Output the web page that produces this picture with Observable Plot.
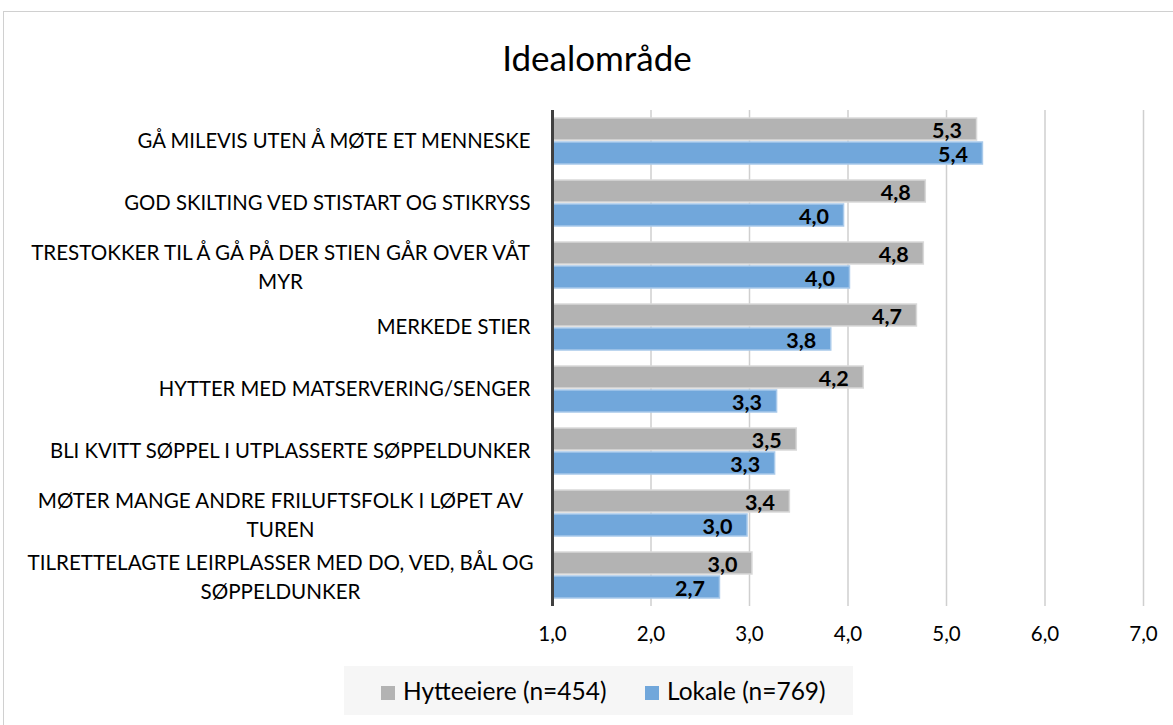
<!DOCTYPE html>
<html>
<head>
<meta charset="utf-8">
<script src="https://cdn.jsdelivr.net/npm/d3@7"></script>
<script src="https://cdn.jsdelivr.net/npm/@observablehq/plot@0.6"></script>
<style>
  html, body { margin: 0; padding: 0; background: #ffffff; }
  body { width: 1173px; height: 725px; position: relative; overflow: hidden; font-family: Lato, "Open Sans", sans-serif; }
  #frame { position: absolute; left: 3px; top: 11px; width: 1180px; height: 730px; border: 1.5px solid #d0d0d0; box-sizing: border-box; }
  #title { position: absolute; left: 0; top: 35px; width: 1194px; text-align: center; font-size: 35px; line-height: 44px; color: #000; }
  #chart { position: absolute; left: 0; top: 90px; }
  #legend { position: absolute; left: 344px; top: 666px; width: 509px; height: 49px; background: #f6f6f6; }
  .item { position: absolute; top: 0; height: 49px; line-height: 49px; font-size: 24.5px; color: #000; white-space: nowrap; }
  .sw { display: inline-block; width: 14px; height: 14px; margin-right: 8px; vertical-align: 0px; }
</style>
</head>
<body>
<div id="frame"></div>
<div id="title">Idealområde</div>
<div id="chart"></div>
<div id="legend"></div>
<script>
// ---- data ----
const categories = [
  "GÅ MILEVIS UTEN Å MØTE ET MENNESKE",
  "GOD SKILTING VED STISTART OG STIKRYSS",
  "TRESTOKKER TIL Å GÅ PÅ DER STIEN GÅR OVER VÅT\nMYR",
  "MERKEDE STIER",
  "HYTTER MED MATSERVERING/SENGER",
  "BLI KVITT SØPPEL I UTPLASSERTE SØPPELDUNKER",
  "MØTER MANGE ANDRE FRILUFTSFOLK I LØPET AV\nTUREN",
  "TILRETTELAGTE LEIRPLASSER MED DO, VED, BÅL OG\nSØPPELDUNKER"
];
const seriesNames = ["Hytteeiere (n=454)", "Lokale (n=769)"];
const hytteeiere = [5.31, 4.79, 4.77, 4.70, 4.16, 3.48, 3.41, 3.03];
const lokale = [5.37, 3.96, 4.02, 3.83, 3.28, 3.26, 2.98, 2.70];
const xTicks = [1, 2, 3, 4, 5, 6, 7];

// ---- styles ----
const colors = ["#b3b3b3", "#71a7db"];
const edges = ["#d9d9d9", "#a8c9ea"];

const fmt = v => v.toFixed(1).replace(".", ",");

const rowsH = categories.map((c, i) => ({cat: c, value: hytteeiere[i]}));
const rowsL = categories.map((c, i) => ({cat: c, value: lokale[i]}));

const single = categories.filter(c => !c.includes("\n"));
const multi = categories.filter(c => c.includes("\n"));

const chart = Plot.plot({
  width: 1173,
  height: 570,
  marginLeft: 552,
  marginRight: 30,
  marginTop: 20,
  marginBottom: 54,
  style: {fontFamily: "Lato, 'Open Sans', sans-serif", background: "transparent", overflow: "visible"},
  x: {domain: [1, 7]},
  y: {domain: categories, paddingInner: 0.26, paddingOuter: 0.13, axis: null},
  marks: [
    Plot.ruleX(xTicks.filter(t => t !== 1), {stroke: "#cfcfcf", strokeWidth: 1.5}),
    Plot.barX(rowsH, {x1: 1, x2: "value", y: "cat", fill: colors[0], stroke: edges[0], strokeWidth: 1.5, insetBottom: 24}),
    Plot.barX(rowsL, {x1: 1, x2: "value", y: "cat", fill: colors[1], stroke: edges[1], strokeWidth: 1.5, insetTop: 24}),
    Plot.text(rowsH, {x: "value", y: "cat", text: d => fmt(d.value), textAnchor: "end", dx: -15, dy: -10, fontSize: 21.5, fontWeight: "bold", fill: "#000"}),
    Plot.text(rowsL, {x: "value", y: "cat", text: d => fmt(d.value), textAnchor: "end", dx: -15, dy: 14, fontSize: 21.5, fontWeight: "bold", fill: "#000"}),
    Plot.ruleX([1], {stroke: "#404040", strokeWidth: 3}),
    Plot.axisX({ticks: xTicks, tickFormat: fmt, tickSize: 0, tickPadding: 20, fontSize: 20.5, fill: "#000", label: null}),
    Plot.text(single, {y: d => d, text: d => d, frameAnchor: "left", textAnchor: "end", dx: -22, fontSize: 20.3, fill: "#000"}),
    Plot.text(multi, {y: d => d, text: d => d, frameAnchor: "left", textAnchor: "middle", dx: -272, fontSize: 20.6, lineHeight: 1.38, fill: "#000"})
  ]
});
document.getElementById("chart").appendChild(chart);

// legend
const legend = document.getElementById("legend");
const lefts = [37, 301];
seriesNames.forEach((name, i) => {
  const it = document.createElement("div");
  it.className = "item";
  it.style.left = lefts[i] + "px";
  it.innerHTML = `<span class="sw" style="background:${colors[i]}"></span>${name}`;
  legend.appendChild(it);
});
</script>
</body>
</html>
